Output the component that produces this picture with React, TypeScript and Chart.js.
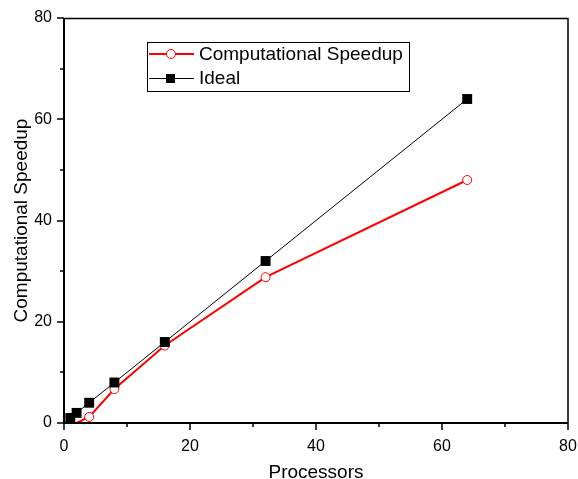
import React, { useEffect, useRef } from "react";
import { Chart, registerables } from "chart.js";

Chart.register(...registerables);

const processorsIdeal = [1, 2, 4, 8, 16, 32, 64];
const idealValues = [1, 2, 4, 8, 16, 32, 64];
const processorsSpeedup = [2, 4, 8, 16, 32, 64];
const speedupValues = [0, 1.2, 6.7, 15.3, 28.8, 48.0];
const speedupRadius = [0, 4.5, 4.5, 4.5, 4.5, 4.5, 4.5];
const xTicks = [0, 20, 40, 60, 80];
const yTicks = [0, 20, 40, 60, 80];
const minorTicks = [10, 30, 50, 70];

const FONT = "'Liberation Sans', Arial, sans-serif";

const framePlugin = {
  id: "frame",
  afterDraw(chart: any) {
    const { ctx, chartArea: a, scales } = chart;
    const xs = scales.x;
    const ys = scales.y;
    ctx.save();
    ctx.strokeStyle = "#000";
    ctx.lineWidth = 1.5;
    ctx.beginPath();
    ctx.moveTo(Math.round(a.left), Math.round(a.top) + 0.5);
    ctx.lineTo(Math.round(a.right), Math.round(a.top) + 0.5);
    ctx.lineTo(Math.round(a.right), Math.round(a.bottom));
    ctx.stroke();
    ctx.lineWidth = 2;
    ctx.beginPath();
    ctx.moveTo(Math.round(a.left), Math.round(a.top));
    ctx.lineTo(Math.round(a.left), Math.round(a.bottom));
    ctx.lineTo(Math.round(a.right), Math.round(a.bottom));
    ctx.stroke();
    ctx.lineWidth = 1.5;
    const b = Math.round(a.bottom);
    const l = Math.round(a.left);
    xTicks.forEach((v) => {
      const px = Math.round(xs.getPixelForValue(v));
      ctx.beginPath();
      ctx.moveTo(px, b);
      ctx.lineTo(px, b + 7);
      ctx.stroke();
    });
    minorTicks.forEach((v) => {
      const px = Math.round(xs.getPixelForValue(v));
      ctx.beginPath();
      ctx.moveTo(px, b);
      ctx.lineTo(px, b + 4);
      ctx.stroke();
    });
    yTicks.forEach((v) => {
      const py = Math.round(ys.getPixelForValue(v));
      ctx.beginPath();
      ctx.moveTo(l, py);
      ctx.lineTo(l - 7, py);
      ctx.stroke();
    });
    minorTicks.forEach((v) => {
      const py = Math.round(ys.getPixelForValue(v));
      ctx.beginPath();
      ctx.moveTo(l, py);
      ctx.lineTo(l - 4, py);
      ctx.stroke();
    });

    // legend
    const bx = 147, by = 42, bw = 262, bh = 49;
    ctx.lineWidth = 1;
    ctx.strokeStyle = "#000";
    ctx.fillStyle = "#fff";
    ctx.fillRect(bx, by, bw, bh);
    ctx.strokeRect(bx + 0.5, by + 0.5, bw, bh);
    const ds = chart.data.datasets;
    ctx.strokeStyle = "#ff0000";
    ctx.lineWidth = 2;
    ctx.beginPath();
    ctx.moveTo(bx + 2, 54);
    ctx.lineTo(bx + 47, 54);
    ctx.stroke();
    ctx.fillStyle = "#fff";
    ctx.lineWidth = 1;
    ctx.beginPath();
    ctx.arc(171, 54, 4.5, 0, Math.PI * 2);
    ctx.fill();
    ctx.stroke();
    ctx.strokeStyle = "#000";
    ctx.lineWidth = 1;
    ctx.beginPath();
    ctx.moveTo(bx + 2, 78.5);
    ctx.lineTo(bx + 47, 78.5);
    ctx.stroke();
    ctx.fillStyle = "#000";
    ctx.fillRect(166, 74, 9, 9);
    ctx.font = `19px ${FONT}`;
    ctx.fillStyle = "#000";
    ctx.textBaseline = "middle";
    ctx.textAlign = "left";
    ctx.fillText(ds[0].label, 199, 55);
    ctx.fillText(ds[1].label, 199, 79);
    ctx.restore();
  },
};

export default function App() {
  const ref = useRef<HTMLCanvasElement>(null);
  useEffect(() => {
    document.body.style.margin = "0";
    const chart = new Chart(ref.current!, {
      type: "scatter",
      data: {
        datasets: [
          {
            label: "Computational Speedup",
            data: processorsSpeedup.map((x, i) => ({ x, y: speedupValues[i] })),
            showLine: true,
            borderColor: "#ff0000",
            borderWidth: 2,
            pointStyle: "circle",
            pointRadius: speedupRadius,
            pointBorderWidth: 1,
            pointBackgroundColor: "#ffffff",
            pointBorderColor: "#ff0000",
            order: 2,
          },
          {
            label: "Ideal",
            data: processorsIdeal.map((x, i) => ({ x, y: idealValues[i] })),
            showLine: true,
            borderColor: "#000000",
            borderWidth: 1,
            pointStyle: "rect",
            pointRadius: 7,
            pointBorderWidth: 0,
            pointBackgroundColor: "#000000",
            pointBorderColor: "#000000",
            order: 1,
          },
        ],
      },
      options: {
        animation: false,
        responsive: false,
        maintainAspectRatio: false,
        layout: { padding: { left: 0, right: 10, top: 18, bottom: 0 } },
        plugins: { legend: { display: false }, tooltip: { enabled: false } },
        scales: {
          x: {
            type: "linear",
            min: 0,
            max: 80,
            grid: { display: false, drawTicks: false },
            border: { display: false },
            afterBuildTicks: (s: any) => {
              s.ticks = xTicks.map((v) => ({ value: v }));
            },
            afterFit: (s: any) => {
              s.height = 56;
              s.paddingLeft = 0;
              s.paddingRight = 0;
            },
            ticks: {
              padding: 14,
              color: "#000",
              font: { family: FONT, size: 16 },
            },
            title: {
              display: true,
              text: "Processors",
              color: "#000",
              font: { family: FONT, size: 19 },
              padding: { top: 8, bottom: -5 },
            },
          },
          y: {
            type: "linear",
            min: 0,
            max: 80,
            grid: { display: false, drawTicks: false },
            border: { display: false },
            afterBuildTicks: (s: any) => {
              s.ticks = yTicks.map((v) => ({ value: v }));
            },
            afterFit: (s: any) => {
              s.width = 64;
              s.paddingTop = 0;
              s.paddingBottom = 0;
            },
            ticks: {
              padding: 12,
              color: "#000",
              font: { family: FONT, size: 16 },
            },
            title: {
              display: true,
              text: "Computational Speedup",
              color: "#000",
              font: { family: FONT, size: 19 },
              padding: { top: 10, bottom: 0 },
            },
          },
        },
      },
      plugins: [framePlugin],
    });
    return () => chart.destroy();
  }, []);
  return <canvas ref={ref} width={578} height={479} style={{ display: "block" }} />;
}
